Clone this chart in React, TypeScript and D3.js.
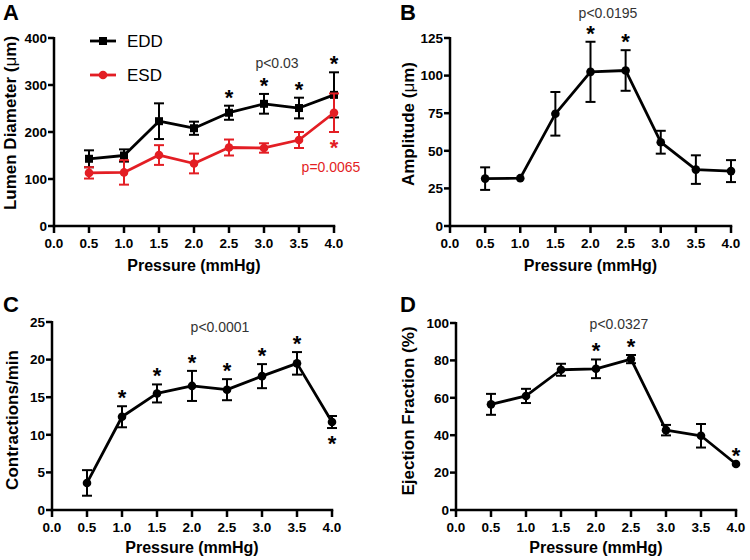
import React from "react";
import * as d3 from "d3";

const pressures = [0.5, 1.0, 1.5, 2.0, 2.5, 3.0, 3.5, 4.0];
const xTicks = [0, 0.5, 1, 1.5, 2, 2.5, 3, 3.5, 4];

const eddMean = [143, 150, 223, 208, 241, 260, 251, 279];
const eddErr = [18, 13, 38, 14, 15, 21, 22, 48];
const esdMean = [113, 114, 151, 133, 167, 166, 183, 241];
const esdErr = [12, 26, 21, 21, 17, 10, 17, 41];

const ampMean = [31.5, 31.8, 74.6, 102.5, 103.4, 55.7, 37.5, 36.5];
const ampErr = [7.5, 0, 14.5, 20, 13.5, 7.6, 9.5, 7.3];

const rateMean = [3.6, 12.4, 15.5, 16.5, 16.0, 17.8, 19.5, 11.7];
const rateErr = [1.7, 1.4, 1.2, 2.0, 1.4, 1.6, 1.5, 0.8];

const efMean = [56.5, 61, 75, 75.5, 80.7, 42.7, 39.7, 24.6];
const efErr = [5.6, 3.8, 3.2, 5.0, 2.2, 2.8, 6.3, 0];

const RED = "#e31e24";
const FONT = "'Liberation Sans', Arial, Helvetica, sans-serif";

type Series = {
  mean: number[];
  err: number[];
  color: string;
  shape: "square" | "circle";
  starsAbove: number[];
  starsBelow: number[];
};

type PanelProps = {
  letter: string;
  lx: number;
  ly: number;
  x0: number;
  x1: number;
  yTop: number;
  yBot: number;
  yMax: number;
  yTicks: number[];
  yLabel: React.ReactNode;
  yLabelX: number;
  yLabelY: number;
  xLabelY: number;
  series: Series[];
};

function Panel(p: PanelProps) {
  const x = d3.scaleLinear().domain([0, 4]).range([p.x0, p.x1]);
  const y = d3.scaleLinear().domain([0, p.yMax]).range([p.yBot, p.yTop]);
  const cap = 5;
  return (
    <g fontFamily={FONT}>
      <text x={p.lx} y={p.ly} fontSize={22} fontWeight="bold">{p.letter}</text>
      <line x1={p.x0} x2={p.x0} y1={p.yTop - 1} y2={p.yBot + 1.25} stroke="#000" strokeWidth={2.5} />
      <line x1={p.x0 - 1.25} x2={p.x1 + 1.25} y1={p.yBot} y2={p.yBot} stroke="#000" strokeWidth={2.5} />
      {p.yTicks.map((t) => (
        <g key={"y" + t}>
          <line x1={p.x0 - 6} x2={p.x0} y1={y(t)} y2={y(t)} stroke="#000" strokeWidth={2.5} />
          <text x={p.x0 - 7} y={y(t)} dy="0.36em" textAnchor="end" fontSize={13.5} fontWeight="bold">{t}</text>
        </g>
      ))}
      {xTicks.map((t) => (
        <g key={"x" + t}>
          <line x1={x(t)} x2={x(t)} y1={p.yBot} y2={p.yBot + 7} stroke="#000" strokeWidth={2.5} />
          <text x={x(t)} y={p.yBot + 22} textAnchor="middle" fontSize={13.5} fontWeight="bold">{t.toFixed(1)}</text>
        </g>
      ))}
      <text transform={`translate(${p.yLabelX},${p.yLabelY}) rotate(-90)`} textAnchor="middle" fontSize={17} fontWeight="bold">{p.yLabel}</text>
      <text x={(p.x0 + p.x1) / 2} y={p.xLabelY} textAnchor="middle" fontSize={16} fontWeight="bold">Pressure (mmHg)</text>
      {p.series.map((s, si) => {
        const line = d3.line<number>().x((_, i) => x(pressures[i])).y((v) => y(v));
        return (
          <g key={si}>
            {s.mean.map((m, i) => {
              const e = s.err[i];
              if (e <= 0) return null;
              const cx = x(pressures[i]);
              return (
                <g key={i} stroke={s.color} strokeWidth={2}>
                  <line x1={cx} x2={cx} y1={y(m + e)} y2={y(m - e)} />
                  <line x1={cx - cap} x2={cx + cap} y1={y(m + e)} y2={y(m + e)} />
                  <line x1={cx - cap} x2={cx + cap} y1={y(m - e)} y2={y(m - e)} />
                </g>
              );
            })}
            <path d={line(s.mean) || ""} fill="none" stroke={s.color} strokeWidth={2.8} strokeLinejoin="round" />
            {s.mean.map((m, i) =>
              s.shape === "square" ? (
                <rect key={i} x={x(pressures[i]) - 4} y={y(m) - 4} width={8} height={8} fill={s.color} />
              ) : (
                <circle key={i} cx={x(pressures[i])} cy={y(m)} r={4.3} fill={s.color} />
              )
            )}
            {s.starsAbove.map((i) => (
              <text key={"sa" + i} x={x(pressures[i])} y={y(s.mean[i] + s.err[i]) - 1} textAnchor="middle" fontSize={22} fontWeight="bold" fill={s.color}>*</text>
            ))}
            {s.starsBelow.map((i) => (
              <text key={"sb" + i} x={x(pressures[i])} y={y(s.mean[i] - s.err[i]) + 23} textAnchor="middle" fontSize={22} fontWeight="bold" fill={s.color}>*</text>
            ))}
          </g>
        );
      })}
    </g>
  );
}

export default function App() {
  return (
    <svg width={750} height={560} style={{ display: "block", position: "absolute", left: 0, top: 0 }} fontFamily={FONT}>
      <rect width={750} height={560} fill="#fff" />
      <Panel
        letter="A" lx={3} ly={20}
        x0={54} x1={334} yTop={38} yBot={226} yMax={400}
        yTicks={[0, 100, 200, 300, 400]}
        yLabel={<>Lumen Diameter (<tspan fontWeight="normal">μ</tspan>m)</>}
        yLabelX={16} yLabelY={123} xLabelY={271}
        series={[
          { mean: eddMean, err: eddErr, color: "#000", shape: "square", starsAbove: [4, 5, 6, 7], starsBelow: [] },
          { mean: esdMean, err: esdErr, color: RED, shape: "circle", starsAbove: [], starsBelow: [7] },
        ]}
      />
      <g fontFamily={FONT}>
        <line x1={90} x2={116} y1={41} y2={41} stroke="#000" strokeWidth={2.8} />
        <rect x={99} y={37} width={8} height={8} fill="#000" />
        <text x={127} y={47} fontSize={17}>EDD</text>
        <line x1={90} x2={116} y1={75} y2={75} stroke={RED} strokeWidth={2.8} />
        <circle cx={103} cy={75} r={4.3} fill={RED} />
        <text x={127} y={81} fontSize={17}>ESD</text>
        <text x={277} y={68} fontSize={14} textAnchor="middle" fill="#333">p&lt;0.03</text>
        <text x={331} y={172} fontSize={14} textAnchor="middle" fill={RED}>p=0.0065</text>
      </g>
      <Panel
        letter="B" lx={400} ly={20}
        x0={450} x1={731} yTop={38} yBot={226} yMax={125}
        yTicks={[0, 25, 50, 75, 100, 125]}
        yLabel={<>Amplitude (<tspan fontWeight="normal">μ</tspan>m)</>}
        yLabelX={414} yLabelY={124} xLabelY={271}
        series={[{ mean: ampMean, err: ampErr, color: "#000", shape: "circle", starsAbove: [3, 4], starsBelow: [] }]}
      />
      <text x={608} y={18} fontSize={14} textAnchor="middle" fill="#333" fontFamily={FONT}>p&lt;0.0195</text>
      <Panel
        letter="C" lx={3} ly={312}
        x0={52} x1={332} yTop={322} yBot={510} yMax={25}
        yTicks={[0, 5, 10, 15, 20, 25]}
        yLabel="Contractions/min"
        yLabelX={18} yLabelY={420} xLabelY={553}
        series={[{ mean: rateMean, err: rateErr, color: "#000", shape: "circle", starsAbove: [1, 2, 3, 4, 5, 6], starsBelow: [7] }]}
      />
      <text x={220} y={332} fontSize={14} textAnchor="middle" fill="#333" fontFamily={FONT}>p&lt;0.0001</text>
      <Panel
        letter="D" lx={400} ly={312}
        x0={456} x1={736} yTop={323} yBot={510} yMax={100}
        yTicks={[0, 20, 40, 60, 80, 100]}
        yLabel="Ejection Fraction (%)"
        yLabelX={414} yLabelY={411} xLabelY={553}
        series={[{ mean: efMean, err: efErr, color: "#000", shape: "circle", starsAbove: [3, 4, 7], starsBelow: [] }]}
      />
      <text x={619} y={329} fontSize={14} textAnchor="middle" fill="#333" fontFamily={FONT}>p&lt;0.0327</text>
    </svg>
  );
}
